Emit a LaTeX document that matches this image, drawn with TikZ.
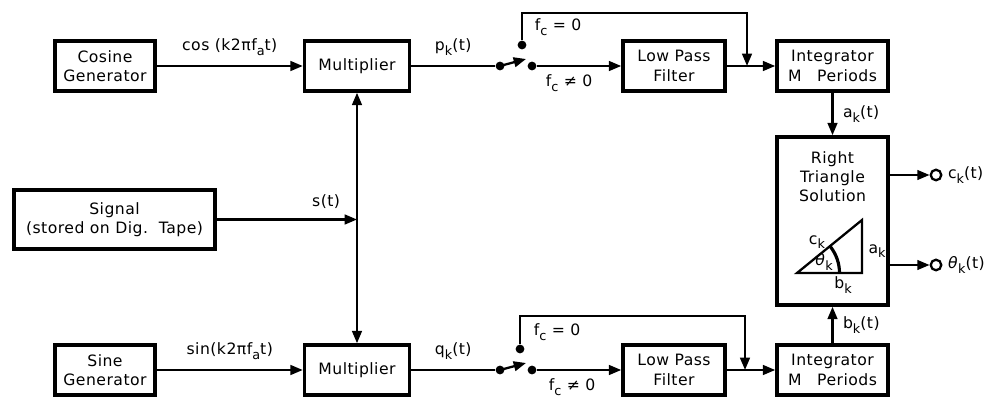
\documentclass[tikz,border=0pt]{standalone}
\usepackage{fontspec}
\setmainfont{DejaVu Sans}[LetterSpace=3]
\usetikzlibrary{arrows.meta, positioning}
\newcommand{\lblfont}{\fontsize{8.9}{11}\selectfont}
\newcommand{\sbs}[1]{\raisebox{-0.55ex}{\fontsize{7.3}{8}\selectfont #1}}

\begin{document}
\begin{tikzpicture}[
    every node/.style={font=\lblfont},
    box/.style={draw, line width=2pt, minimum height=1.0cm,
                align=center, inner sep=1pt},
    arr/.style={-{Triangle[length=7pt, width=5.5pt]}, line width=1.3pt},
    wire/.style={line width=1.3pt},
    dot/.style={circle, fill, inner sep=0pt, minimum size=5pt},
    term/.style={circle, draw, line width=1.3pt, inner sep=0pt, minimum size=6pt}
  ]
  \useasboundingbox (0,0) rectangle (19.78,7.94);

  % upper channel
  \node[box, minimum width=2.0cm]  (cosgen) at (2.10,6.62) {Cosine\\Generator};
  \node[box, minimum width=2.1cm]  (mult1)  at (7.14,6.62) {Multiplier};
  \node[dot] (piv1) at (10.00,6.62) {};
  \node[dot] (on1)  at (10.44,7.04) {};
  \node[dot] (off1) at (10.64,6.62) {};
  \coordinate (tip1) at (10.52,6.76);
  \node[box, minimum width=2.04cm] (lpf1) at (13.48,6.62) {Low Pass\\Filter};
  \coordinate (sum1) at (14.94,6.62);
  \coordinate (fb1)  at (14.94,7.68);
  \node[box, minimum width=2.22cm] (int1) at (16.65,6.62) {Integrator\\M\quad Periods};

  % signal
  \node[box, minimum width=4.02cm, minimum height=1.18cm] (sig) at (2.29,3.55)
       {Signal\\(stored on Dig.\ \ Tape)};
  \coordinate (split) at (7.14,3.55);

  % lower channel
  \node[box, minimum width=2.0cm]  (singen) at (2.10,0.54) {Sine\\Generator};
  \node[box, minimum width=2.1cm]  (mult2)  at (7.14,0.54) {Multiplier};
  \node[dot] (piv2) at (10.00,0.54) {};
  \node[dot] (on2)  at (10.40,0.96) {};
  \node[dot] (off2) at (10.64,0.54) {};
  \coordinate (tip2) at (10.52,0.68);
  \node[box, minimum width=2.04cm] (lpf2) at (13.48,0.54) {Low Pass\\Filter};
  \coordinate (sum2) at (14.90,0.54);
  \coordinate (fb2)  at (14.90,1.62);
  \node[box, minimum width=2.22cm] (int2) at (16.65,0.54) {Integrator\\M\quad Periods};

  % triangle solver
  \node[box, minimum width=2.22cm, minimum height=3.36cm] (rts) at (16.65,3.52) {};
  \node[align=center, below=0.2cm of rts.north] (rtstxt) {Right\\Triangle\\Solution};
  \coordinate (tA) at (15.94,2.48);
  \coordinate (tB) at (17.24,2.48);
  \coordinate (tC) at (17.24,3.54);
  \draw[wire] (tA) -- (tB) -- (tC) -- cycle;
  \draw[line width=1.8pt] ([xshift=0.85cm]tA) arc[start angle=0, end angle=39, radius=0.85cm];
  \node (ck)  at (16.34,3.10) {c\sbs{k}};
  \node (ak)  at (17.54,2.92) {a\sbs{k}};
  \node (thk) at (16.48,2.70) {\textit{θ}\sbs{k}};
  \node (bk)  at (16.86,2.24) {b\sbs{k}};

  \node[term] (outc) at (18.72,4.44) {};
  \node[term] (outt) at (18.72,2.64) {};
  \node[right=3pt of outc, inner sep=0pt] (outclbl) {c\sbs{k}(t)};
  \node[right=3pt of outt, inner sep=0pt] (outtlbl) {\textit{θ}\sbs{k}(t)};

  % connectors
  \draw[arr] (cosgen) -- (mult1) node[midway, above=2pt] {cos (k2πf\sbs{a}t)};
  \draw[wire] (mult1) -- (piv1) node[midway, above=2pt] {p\sbs{k}(t)};
  \draw[arr] (piv1.center) -- (tip1);
  \draw[arr] (off1) -- (lpf1);
  \draw[arr] (on1) |- (fb1) -- (sum1);
  \draw[arr] (lpf1) -- (int1);
  \node at (11.16,7.40) {f\sbs{c} = 0};
  \node at (11.38,6.28) {f\sbs{c} ≠ 0};

  \draw[arr] (sig) -- (split) node[pos=0.78, above=2pt] {s(t)};
  \draw[arr] (split) -- (mult1);
  \draw[arr] (split) -- (mult2);

  \draw[arr] (singen) -- (mult2) node[midway, above=2pt] {sin(k2πf\sbs{a}t)};
  \draw[wire] (mult2) -- (piv2) node[midway, above=2pt] {q\sbs{k}(t)};
  \draw[arr] (piv2.center) -- (tip2);
  \draw[arr] (off2) -- (lpf2);
  \draw[arr] (on2) |- (fb2) -- (sum2);
  \draw[arr] (lpf2) -- (int2);
  \node at (11.14,1.30) {f\sbs{c} = 0};
  \node at (11.44,0.20) {f\sbs{c} ≠ 0};

  \draw[arr] (int1) -- (rts) node[midway, right=2pt] {a\sbs{k}(t)};
  \draw[arr] (int2) -- (rts) node[midway, right=2pt] {b\sbs{k}(t)};
  \draw[arr] (rts.east |- outc) -- (outc);
  \draw[arr] (rts.east |- outt) -- (outt);
\end{tikzpicture}
\end{document}
